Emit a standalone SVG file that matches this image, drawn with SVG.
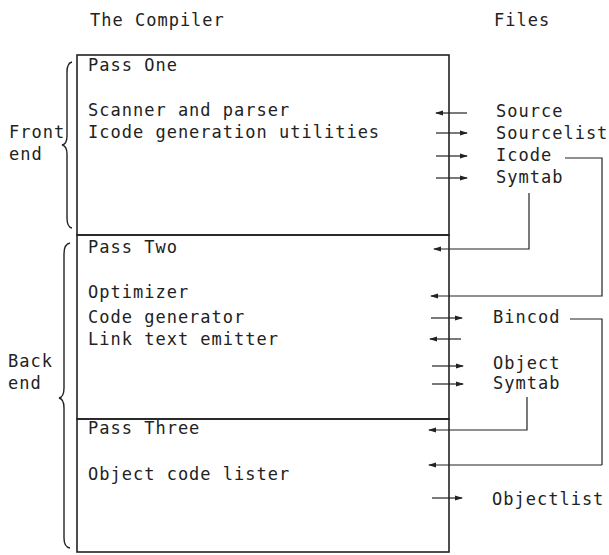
<svg xmlns="http://www.w3.org/2000/svg" width="609" height="555" viewBox="0 0 609 555">
<style>
text{font-family:"DejaVu Sans Mono","Liberation Mono",monospace;font-size:17px;letter-spacing:1px;fill:#222}
.box{fill:none;stroke:#222;stroke-width:1.6}
.brace{fill:none;stroke:#222;stroke-width:1.4}
.con{fill:none;stroke:#222;stroke-width:1.2}
.arr{marker-end:url(#ah)}
</style>
<defs>
<marker id="ah" markerWidth="8" markerHeight="6" refX="7" refY="3" orient="auto" markerUnits="userSpaceOnUse">
<path d="M0,0.5 L8,3 L0,5.5 Z" fill="#222"/>
</marker>
</defs>
<g id="headers">
<text x="90" y="26">The Compiler</text>
<text x="494" y="26">Files</text>
</g>
<g id="pass1">
<rect class="box" x="77" y="55" width="372" height="180"/>
<text x="88" y="71">Pass One</text>
<text x="88" y="116">Scanner and parser</text>
<text x="88" y="138">Icode generation utilities</text>
</g>
<g id="pass2">
<rect class="box" x="77" y="235" width="372" height="184"/>
<text x="88" y="253">Pass Two</text>
<text x="88" y="298">Optimizer</text>
<text x="88" y="323">Code generator</text>
<text x="88" y="345">Link text emitter</text>
</g>
<g id="pass3">
<rect class="box" x="77" y="419" width="372" height="133"/>
<text x="88" y="434">Pass Three</text>
<text x="88" y="480">Object code lister</text>
</g>
<g id="frontend">
<path class="brace" d="M72,62 Q67,63 67,72 L67,136 Q67,144 62,145 Q67,146 67,154 L67,218 Q67,227 72,228"/>
<text x="9" y="138">Front</text>
<text x="9" y="160">end</text>
</g>
<g id="backend">
<path class="brace" d="M70,243 Q64,244 64,254 L64,388 Q64,397 59,398 Q64,399 64,408 L64,538 Q64,547 70,548"/>
<text x="8" y="367">Back</text>
<text x="8" y="389">end</text>
</g>
<g id="files">
<text x="496" y="117">Source</text>
<text x="496" y="139">Sourcelist</text>
<text x="496" y="161">Icode</text>
<text x="496" y="183">Symtab</text>
<text x="493" y="323">Bincod</text>
<text x="493" y="369">Object</text>
<text x="493" y="389">Symtab</text>
<text x="492" y="505">Objectlist</text>
</g>
<g id="connectors">
<path class="con arr" d="M467,113 L436,113"/>
<path class="con arr" d="M436,133 L467,133"/>
<path class="con arr" d="M436,156 L467,156"/>
<path class="con arr" d="M436,178 L467,178"/>
<path class="con arr" d="M529,193 L529,249 L434,249"/>
<path class="con arr" d="M565,158 L602,158 L602,296 L431,296"/>
<path class="con arr" d="M431,318 L462,318"/>
<path class="con arr" d="M461,339 L430,339"/>
<path class="con arr" d="M432,366 L463,366"/>
<path class="con arr" d="M432,384 L463,384"/>
<path class="con" d="M570,319 L602,319 L602,465"/>
<path class="con arr" d="M527,397 L527,430 L429,430"/>
<path class="con arr" d="M602,465 L429,465"/>
<path class="con arr" d="M432,498 L462,498"/>
</g>
</svg>
